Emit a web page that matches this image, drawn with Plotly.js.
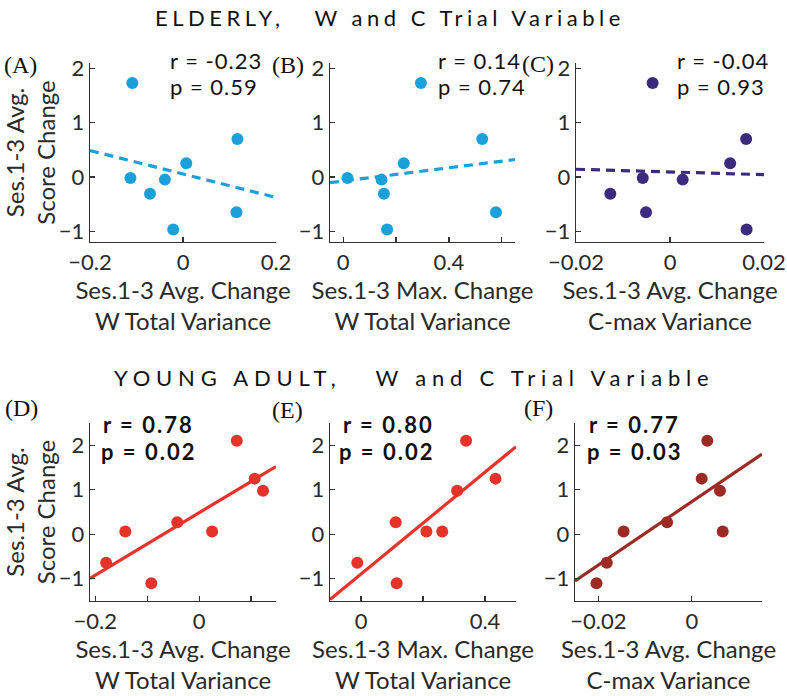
<!DOCTYPE html>
<html><head><meta charset="utf-8">
<script src="https://cdn.plot.ly/plotly-3.0.1.min.js"></script>
<style>html,body{margin:0;padding:0;background:#fff;}#chart{width:787px;height:696px;}</style>
</head><body><div id="chart"></div>
<script>
// ---- data ----
const elderlyScore = [1.73, 0.70, 0.25, -0.02, -0.05, -0.31, -0.65, -0.97];
const elderlyAvgW  = [-0.109, 0.117, 0.007, -0.113, -0.039, -0.071, 0.115, -0.021];
const elderlyMaxW  = [0.294, 0.526, 0.229, 0.016, 0.145, 0.154, 0.578, 0.166];
const elderlyAvgC  = [-0.0037, 0.0162, 0.0128, -0.0058, 0.0027, -0.0127, -0.0051, 0.0163];
const youngScore   = [2.10, 1.25, 0.98, 0.27, 0.06, 0.06, -0.64, -1.10];
const youngAvgW    = [0.0725, 0.107, 0.123, -0.042, -0.142, 0.025, -0.179, -0.092];
const youngMaxW    = [0.339, 0.434, 0.310, 0.112, 0.211, 0.262, -0.012, 0.115];
const youngAvgC    = [0.0033, 0.0021, 0.0060, -0.0053, -0.0146, 0.0066, -0.0182, -0.0204];
const panelLetters = ['(A)', '(B)', '(C)', '(D)', '(E)', '(F)'];
const rTexts = ['r = -0.23', 'r = 0.14', 'r = -0.04', 'r = 0.78', 'r = 0.80', 'r = 0.77'];
const pTexts = ['p = 0.59', 'p = 0.74', 'p = 0.93', 'p = 0.02', 'p = 0.02', 'p = 0.03'];
const xTitles = ['Ses.1-3 Avg. Change<br>W Total Variance', 'Ses.1-3 Max. Change<br>W Total Variance', 'Ses.1-3 Avg. Change<br>C-max Variance',
                 'Ses.1-3 Avg. Change<br>W Total Variance', 'Ses.1-3 Max. Change<br>W Total Variance', 'Ses.1-3 Avg. Change<br>C-max Variance'];
const yTitle = 'Ses.1-3 Avg.<br>Score Change';
const rowTitles = ['ELDERLY,   W and C Trial Variable', 'YOUNG ADULT,   W and C Trial Variable'];
const yTickVals = [-1, 0, 1, 2];

// ---- panel styling / layout ----
const W = 787, H = 696;
const M = '\u2212';
const panels = [
  {x: elderlyAvgW, y: elderlyScore, color: '#1CA0DA', dash: '9px,6px', bold: false,
   xr: [-0.2, 0.2], tv: [-0.2, 0, 0.2], tt: [M+'0.2', '0', '0.2'], px: [90, 276], py: [63, 242], yr: [-1.2, 2.1]},
  {x: elderlyMaxW, y: elderlyScore, color: '#1CA0DA', dash: '9px,6px', bold: false,
   xr: [-0.05, 0.65], tv: [0, 0.2, 0.4, 0.6], tt: ['0', '', '0.4', ''], px: [330, 515], py: [63, 242], yr: [-1.2, 2.1]},
  {x: elderlyAvgC, y: elderlyScore, color: '#3B2B7E', dash: '9px,6px', bold: false,
   xr: [-0.02, 0.02], tv: [-0.02, 0, 0.02], tt: [M+'0.02', '0', '0.02'], px: [576, 764], py: [63, 242], yr: [-1.2, 2.1]},
  {x: youngAvgW, y: youngScore, color: '#E5332A', dash: 'solid', bold: true,
   xr: [-0.21, 0.148], tv: [-0.2, -0.1, 0, 0.1], tt: [M+'0.2', '', '0', ''], px: [90, 276], py: [423, 601], yr: [-1.5, 2.5]},
  {x: youngMaxW, y: youngScore, color: '#E5332A', dash: 'solid', bold: true,
   xr: [-0.1, 0.5], tv: [0, 0.2, 0.4], tt: ['0', '', '0.4'], px: [330, 516], py: [423, 601], yr: [-1.5, 2.5]},
  {x: youngAvgC, y: youngScore, color: '#9B2B24', dash: 'solid', bold: true,
   xr: [-0.025, 0.015], tv: [-0.02, 0], tt: [M+'0.02', '0'], px: [575, 762], py: [423, 601], yr: [-1.5, 2.5]}
];
const letterPos = [[20, 65], [288, 65], [538, 64], [21, 408], [287, 410], [538, 408]];
const rPos = [[168, 60], [436, 60], [675, 60], [148, 424], [388, 424], [634, 424]];
const pPos = [[168, 86], [436, 86], [675, 86], [148, 451], [386, 451], [634, 451]];

const FONT = 'Lato, "Open Sans", sans-serif';
const INK = '#2a2a2a';

function fit(xs, ys) {
  const n = xs.length;
  const mx = xs.reduce((a, b) => a + b, 0) / n;
  const my = ys.reduce((a, b) => a + b, 0) / n;
  let sxy = 0, sxx = 0;
  for (let i = 0; i < n; i++) { sxy += (xs[i] - mx) * (ys[i] - my); sxx += (xs[i] - mx) ** 2; }
  const b = sxy / sxx;
  return {b: b, a: my - b * mx};
}

const data = [];
const layout = {
  width: W, height: H, margin: {l: 0, r: 0, t: 0, b: 0},
  paper_bgcolor: '#fff', plot_bgcolor: '#fff', showlegend: false,
  font: {family: FONT, color: INK, size: 22},
  annotations: []
};
const px2x = p => p / W;
const px2y = p => 1 - p / H;
const spaced = (t, s) => '<span style="letter-spacing:' + s + 'px">' + t + '</span>';

panels.forEach((p, i) => {
  const k = i + 1;
  const xa = 'x' + (k === 1 ? '' : k), ya = 'y' + (k === 1 ? '' : k);
  const f = fit(p.x, p.y);
  data.push({type: 'scatter', mode: 'lines', x: p.xr, y: p.xr.map(v => f.a + f.b * v),
    xaxis: xa, yaxis: ya, line: {color: p.color, width: 3.2, dash: p.dash}, hoverinfo: 'skip'});
  data.push({type: 'scatter', mode: 'markers', x: p.x, y: p.y, xaxis: xa, yaxis: ya,
    marker: {color: p.color, size: 12, line: {width: 0}}, cliponaxis: false});
  const axCommon = {showline: true, linecolor: '#333', linewidth: 1.3, mirror: false,
    showgrid: false, zeroline: false, ticks: 'inside', ticklen: 5, tickcolor: '#333', tickwidth: 1.2,
    tickfont: {family: FONT, size: 22, color: INK}, fixedrange: true};
  layout['xaxis' + (k === 1 ? '' : k)] = Object.assign({}, axCommon, {
    domain: [px2x(p.px[0]), px2x(p.px[1])], anchor: ya, range: p.xr,
    tickmode: 'array', tickvals: p.tv, ticktext: p.tt,
    title: {text: xTitles[i], font: {family: FONT, size: 24, color: INK}, standoff: 0}
  });
  layout['yaxis' + (k === 1 ? '' : k)] = Object.assign({}, axCommon, {
    domain: [px2y(p.py[1]), px2y(p.py[0])], anchor: xa, range: p.yr,
    tickmode: 'array', tickvals: yTickVals,
    title: (k === 1 || k === 4) ? {text: yTitle, font: {family: FONT, size: 24, color: INK}, standoff: 2} : {text: ''}
  });
  layout.annotations.push({xref: 'paper', yref: 'paper', x: px2x(letterPos[i][0]), y: px2y(letterPos[i][1]),
    text: panelLetters[i], showarrow: false, xanchor: 'center', yanchor: 'middle',
    font: {family: '"Liberation Serif", "Times New Roman", serif', size: 24, color: '#111'}});
  const anch = p.bold ? 'center' : 'left';
  const ls = p.bold ? 2.0 : 1.0;
  const fnt = {family: FONT, size: 22, color: '#111', weight: p.bold ? 'bold' : 'normal'};
  layout.annotations.push({xref: 'paper', yref: 'paper', x: px2x(rPos[i][0]), y: px2y(rPos[i][1]),
    text: spaced(rTexts[i], ls), showarrow: false, xanchor: anch, yanchor: 'middle', font: fnt});
  layout.annotations.push({xref: 'paper', yref: 'paper', x: px2x(pPos[i][0]), y: px2y(pPos[i][1]),
    text: spaced(pTexts[i], ls), showarrow: false, xanchor: anch, yanchor: 'middle', font: fnt});
});
layout.annotations.push({xref: 'paper', yref: 'paper', x: px2x(390), y: px2y(18), text: spaced(rowTitles[0], 4.5),
  showarrow: false, xanchor: 'center', yanchor: 'middle', font: {family: FONT, size: 22, color: '#111'}});
layout.annotations.push({xref: 'paper', yref: 'paper', x: px2x(414), y: px2y(377), text: spaced(rowTitles[1], 5.8),
  showarrow: false, xanchor: 'center', yanchor: 'middle', font: {family: FONT, size: 22, color: '#111'}});

Plotly.newPlot('chart', data, layout, {staticPlot: true, displayModeBar: false});
</script></body></html>
